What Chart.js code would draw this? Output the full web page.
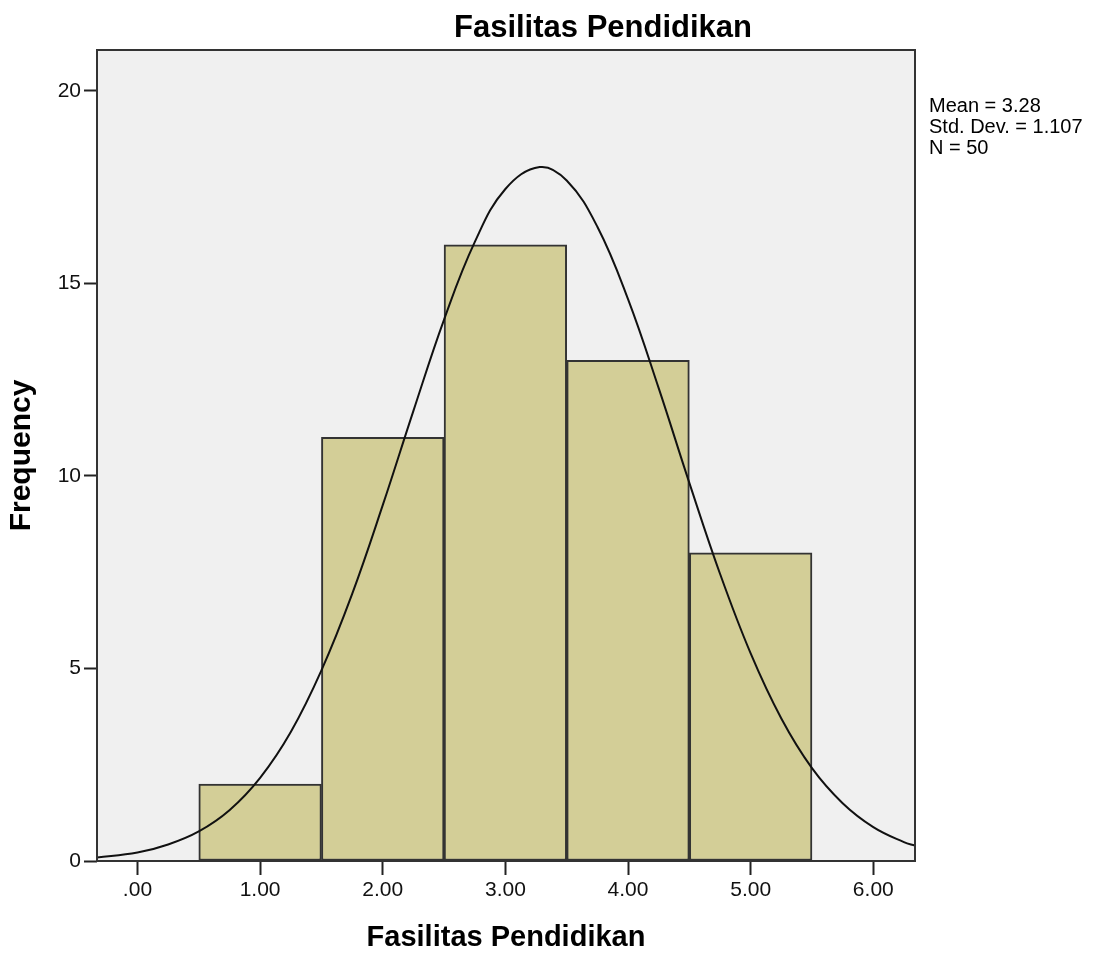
<!DOCTYPE html>
<html>
<head>
<meta charset="utf-8">
<script src="https://cdn.jsdelivr.net/npm/chart.js@4"></script>
<style>
  html, body { margin: 0; background: #fff; }
  canvas { display: block; }
</style>
</head>
<body>
<canvas id="hist" width="1103" height="962"></canvas>
<script>
const chartTitle = "Fasilitas Pendidikan";
const xTitle = "Fasilitas Pendidikan";
const yTitle = "Frequency";
const binCenters = [1, 2, 3, 4, 5];
const binCounts = [2, 11, 16, 13, 8];
// normal curve
const curveX = [-0.34, 0, 0.25, 0.5, 0.75, 1, 1.25, 1.5, 1.75, 2, 2.25, 2.5, 2.75, 3, 3.28,
                3.5, 3.75, 4, 4.25, 4.5, 4.75, 5, 5.25, 5.5, 5.75, 6, 6.25, 6.34];
const curveY = [0.09, 0.22, 0.43, 0.77, 1.32, 2.16, 3.35, 4.95, 6.93, 9.24, 11.69, 14.06, 16.07, 17.45, 18.02,
                17.67, 16.47, 14.59, 12.28, 9.82, 7.46, 5.39, 3.70, 2.41, 1.50, 0.88, 0.49, 0.40];
const statLines = ["Mean = 3.28", "Std. Dev. = 1.107", "N = 50"];

Chart.defaults.font.family = "'Liberation Sans', Arial, sans-serif";
Chart.defaults.color = "#111";

const frame = {
  id: "frame",
  beforeDraw(c) {
    const { ctx, chartArea: a } = c;
    ctx.save();
    ctx.fillStyle = "#f0f0f0";
    ctx.fillRect(a.left, a.top, a.right - a.left, a.bottom - a.top);
    ctx.restore();
  },
  afterDraw(c) {
    const { ctx, chartArea: a } = c;
    ctx.save();
    ctx.strokeStyle = "#333";
    ctx.lineWidth = 2;
    ctx.strokeRect(a.left, a.top, a.right - a.left, a.bottom - a.top);

    ctx.fillStyle = "#000";
    ctx.font = "bold 31px 'Liberation Sans', Arial, sans-serif";
    ctx.textAlign = "center";
    ctx.textBaseline = "alphabetic";
    ctx.fillText(chartTitle, 603, 37);

    ctx.font = "20px 'Liberation Sans', Arial, sans-serif";
    ctx.textAlign = "left";
    statLines.forEach((t, i) => ctx.fillText(t, a.right + 14, 112 + i * 21));
    ctx.restore();
  },
};

new Chart(document.getElementById("hist"), {
  type: "bar",
  data: {
    datasets: [
      {
        type: "line",
        order: 0,
        data: curveX.map((x, i) => ({ x, y: curveY[i] })),
        borderColor: "#111",
        borderWidth: 2,
        pointRadius: 0,
        tension: 0.4,
        fill: false,
      },
      {
        order: 1,
        data: binCenters.map((x, i) => ({ x, y: binCounts[i] })),
        backgroundColor: "#d3ce97",
        borderColor: "#333",
        borderWidth: 2,
        borderSkipped: false,
        barPercentage: 1,
        categoryPercentage: 1,
      },
    ],
  },
  options: {
    responsive: false,
    animation: false,
    layout: { padding: { top: 50, right: 188, left: 0, bottom: 0 } },
    plugins: { legend: { display: false }, tooltip: { enabled: false } },
    scales: {
      x: {
        type: "linear",
        min: -0.33,
        max: 6.34,
        offset: false,
        afterFit: s => { s.height = 101; },
        border: { display: false },
        grid: { drawOnChartArea: false, offset: false, tickLength: 14, tickWidth: 2, tickColor: "#222" },
        ticks: {
          stepSize: 1, includeBounds: false, padding: 3, maxRotation: 0, autoSkip: false,
          font: { size: 21 },
          callback: v => v.toFixed(2).replace(/^0/, ""),
        },
        title: { display: true, text: xTitle, color: "#000", font: { size: 29, weight: "bold" }, padding: { top: 0, bottom: 7 } },
      },
      y: {
        min: 0,
        max: 21.06,
        afterFit: s => { s.width = 97; },
        border: { display: false },
        grid: { drawOnChartArea: false, tickLength: 13, tickWidth: 2, tickColor: "#222" },
        ticks: { stepSize: 5, includeBounds: false, padding: 3, font: { size: 21 } },
        title: { display: true, text: yTitle, color: "#000", font: { size: 30, weight: "bold" }, padding: { top: 4, bottom: 0 } },
      },
    },
  },
  plugins: [frame],
});
</script>
</body>
</html>
